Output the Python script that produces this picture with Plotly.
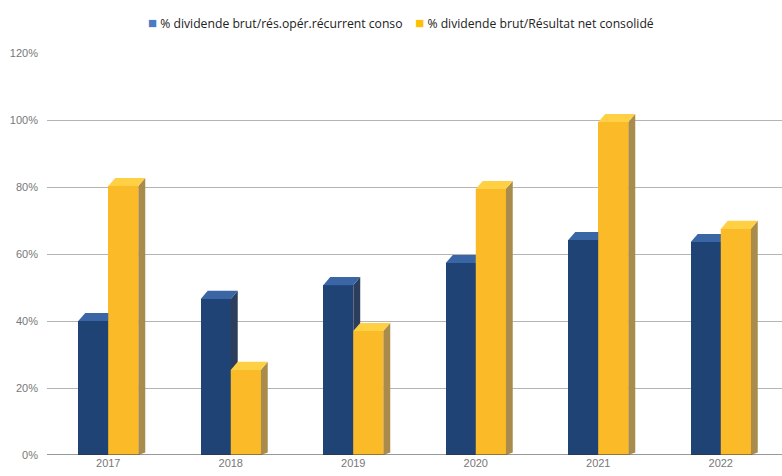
import plotly.graph_objects as go

years = ["2017", "2018", "2019", "2020", "2021", "2022"]
ratio_recurrent = [40.0, 46.6, 50.7, 57.3, 64.2, 63.6]
ratio_net = [80.3, 25.4, 37.0, 79.4, 99.4, 67.5]
y_ticks = [0, 20, 40, 60, 80, 100, 120]
y_ticktext = ["0%", "20%", "40%", "60%", "80%", "100%", "120%"]
legend_names = ["% dividende brut/rés.opér.récurrent conso",
                "% dividende brut/Résultat net consolidé"]

BAR_W = 0.245   # front face width in category units
DX = 0.057      # depth offset (x, category units)
DY = 2.4        # depth offset (y, percent units)

series = [
    dict(vals=ratio_recurrent, offset=-BAR_W, front="#1e4374", top="#3a66a6",
         side="#2d3d5c", legend="#4a7cc0"),
    dict(vals=ratio_net, offset=0.0, front="#fbbb28", top="#ffd043",
         side="#a98c4c", legend="#ffc000"),
]

fig = go.Figure()
xs = list(range(len(years)))

for s, name in zip(series, legend_names):
    # front faces
    fig.add_trace(go.Bar(
        x=xs, y=s["vals"], width=BAR_W, offset=s["offset"], name=name,
        marker=dict(color=s["front"], line=dict(width=0)),
        showlegend=False, hoverinfo="skip",
    ))

# side and top faces of each prism, drawn per category so the yellow bar
# overlaps the blue side face
for i in xs:
    for s in series:
        v = s["vals"][i]
        x0 = i + s["offset"]
        x1 = x0 + BAR_W
        # right side face
        fig.add_trace(go.Scatter(
            x=[x1, x1 + DX, x1 + DX, x1, x1],
            y=[0, DY * 0.3, v + DY, v, 0],
            fill="toself", fillcolor=s["side"], mode="none",
            showlegend=False, hoverinfo="skip",
        ))
        # top face
        fig.add_trace(go.Scatter(
            x=[x0, x1, x1 + DX, x0 + DX, x0],
            y=[v, v, v + DY, v + DY, v],
            fill="toself", fillcolor=s["top"], mode="none",
            showlegend=False, hoverinfo="skip",
        ))
    # redraw the yellow front so it sits over the blue side face
    s = series[1]
    v = s["vals"][i]
    x0 = i + s["offset"]
    fig.add_trace(go.Scatter(
        x=[x0, x0 + BAR_W, x0 + BAR_W, x0, x0],
        y=[0, 0, v, v, 0],
        fill="toself", fillcolor=s["front"], mode="none",
        showlegend=False, hoverinfo="skip",
    ))

# compact legend line: coloured square + label for each series
legend_html = "    ".join(
    f"<span style='font-size:15px;color:{s['legend']}'>■</span> {name}"
    for s, name in zip(series, legend_names)
)
fig.add_annotation(
    text=legend_html, xref="paper", yref="paper",
    x=0.4816, y=1.077, xanchor="center", yanchor="middle", showarrow=False,
    font=dict(family="Open Sans, sans-serif", size=12.2, color="#222222"),
)

fig.add_shape(type="line", xref="paper", yref="y", x0=0, x1=1, y0=0, y1=0,
              line=dict(color="#333333", width=1.2), layer="above")

fig.update_layout(
    width=782, height=476,
    margin=dict(l=47, r=0, t=53, b=21),
    paper_bgcolor="white", plot_bgcolor="white",
    font=dict(family="Liberation Sans Narrow, Arial Narrow, Liberation Sans, sans-serif",
              color="#777777"),
    showlegend=False,
    bargap=0, barmode="overlay",
    xaxis=dict(range=[-0.5, 5.5], tickvals=xs, ticktext=years,
               showgrid=False, zeroline=False, showline=False,
               ticks="", tickfont=dict(size=11, color="#777777")),
    yaxis=dict(range=[0, 120], tickvals=y_ticks, ticktext=y_ticktext,
               showgrid=True, gridcolor="#b4b4b4", gridwidth=1,
               zeroline=False, showline=False, ticks="",
               ticklabelstandoff=8,
               tickfont=dict(size=11, color="#777777")),
)

fig.write_html("out.html")
